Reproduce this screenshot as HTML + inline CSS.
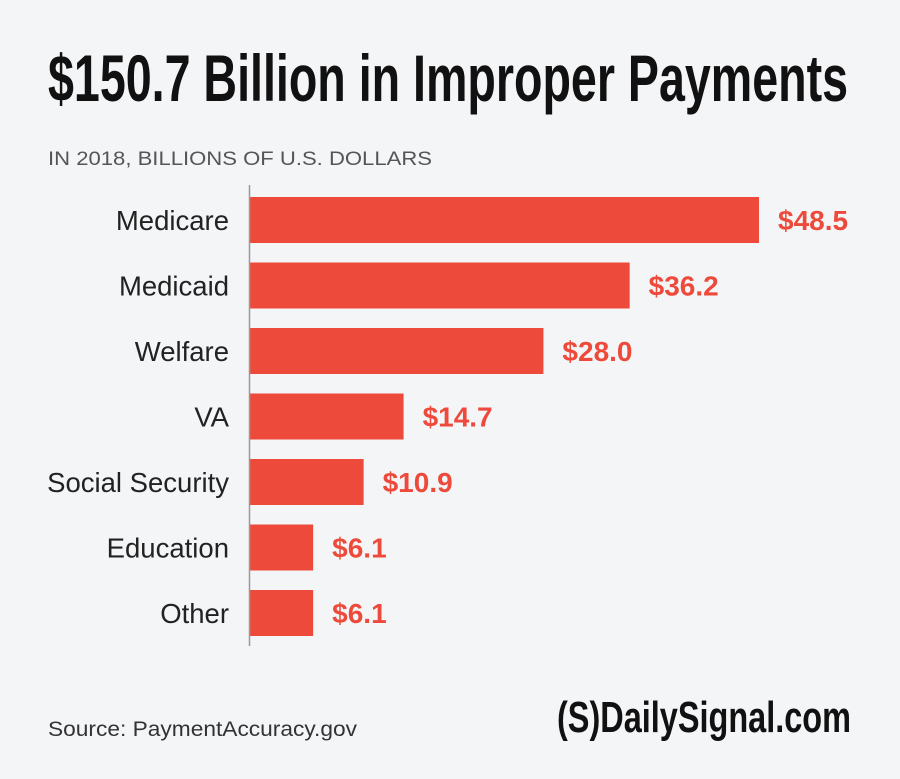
<!DOCTYPE html>
<html><head><meta charset="utf-8"><style>
html,body{margin:0;padding:0;background:#f4f5f7;}
svg{display:block;font-family:"Liberation Sans",sans-serif;}
</style></head><body>
<svg id="chart" width="900" height="779" viewBox="0 0 900 779">
<rect width="900" height="779" fill="#f4f5f7"/>
<text x="48" y="101" font-size="66" font-weight="bold" fill="#111" textLength="800" lengthAdjust="spacingAndGlyphs">$150.7 Billion in Improper Payments</text>
<text x="48" y="165" font-size="19" fill="#555" textLength="384" lengthAdjust="spacingAndGlyphs">IN 2018, BILLIONS OF U.S. DOLLARS</text>
<g id="bars"></g>
<line x1="249.5" y1="185" x2="249.5" y2="646" stroke="#999" stroke-width="1.5"/>
<text x="48" y="736" font-size="21" fill="#333" textLength="309" lengthAdjust="spacingAndGlyphs">Source: PaymentAccuracy.gov</text>
<text x="557" y="732" font-size="44" font-weight="bold" fill="#111" textLength="294" lengthAdjust="spacingAndGlyphs">(S)DailySignal.com</text>
</svg>
<script>
const categories = ["Medicare","Medicaid","Welfare","VA","Social Security","Education","Other"];
const values = [48.5, 36.2, 28.0, 14.7, 10.9, 6.1, 6.1];
const valueLabels = ["$48.5","$36.2","$28.0","$14.7","$10.9","$6.1","$6.1"];
const NS="http://www.w3.org/2000/svg";
const x0=249, scale=510/48.5;
function xPos(v){return x0+v*scale;}
function yPos(i){return 197+i*65.5;}
const barH=46;
const g=document.getElementById('bars');
categories.forEach((c,i)=>{
  const y=yPos(i);
  const r=document.createElementNS(NS,'rect');
  r.setAttribute('x',x0);r.setAttribute('y',y);
  r.setAttribute('width',xPos(values[i])-x0);r.setAttribute('height',barH);
  r.setAttribute('fill','#ee4a3b');
  
  
  g.appendChild(r);
  const t=document.createElementNS(NS,'text');
  t.setAttribute('x',229);t.setAttribute('y',y+barH/2+10);
  t.setAttribute('text-anchor','end');t.setAttribute('font-size','27.5');t.setAttribute('fill','#222');
  t.textContent=c;
  
  
  g.appendChild(t);
  const v=document.createElementNS(NS,'text');
  v.setAttribute('x',xPos(values[i])+19);v.setAttribute('y',y+barH/2+10);
  v.setAttribute('font-size','28');v.setAttribute('font-weight','bold');v.setAttribute('fill','#ee4a3b');
  v.textContent=valueLabels[i];
  
  
  g.appendChild(v);
});
</script>
</body></html>
